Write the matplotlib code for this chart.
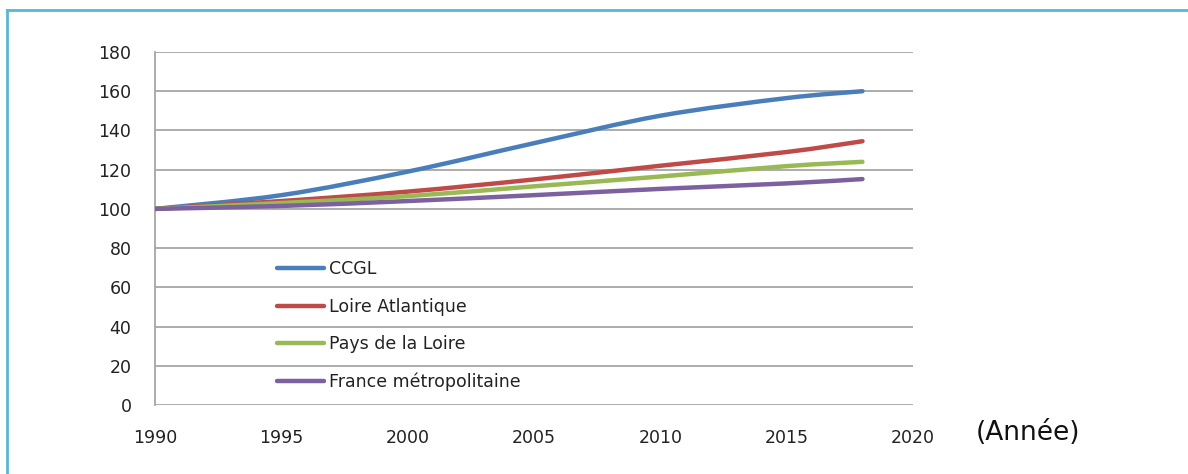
import matplotlib
matplotlib.use("Agg")
import matplotlib.pyplot as plt
from matplotlib.path import Path
from matplotlib.patches import PathPatch
from matplotlib.lines import Line2D

# indice base 100 en 1990
years = [1990, 1995, 2000, 2005, 2010, 2015, 2018]
ccgl = [100, 107, 119, 133.5, 147.5, 156.5, 160]
loire_atlantique = [100, 104, 108.8, 115, 122, 129, 134.5]
pays_de_la_loire = [100, 103, 106.5, 111.5, 116.5, 121.8, 124]
france_metro = [100, 101.5, 104, 107, 110.2, 113, 115.2]

labels = ["CCGL", "Loire Atlantique", "Pays de la Loire", "France métropolitaine"]
series = [ccgl, loire_atlantique, pays_de_la_loire, france_metro]
colors = ["#4A7EBB", "#BE4B48", "#98B954", "#7D60A0"]

xticks = [1990, 1995, 2000, 2005, 2010, 2015, 2020]
yticks = [0, 20, 40, 60, 80, 100, 120, 140, 160, 180]

LINEWIDTH = 3.2
GRID = "#A6A6A6"
FONTSIZE = 12.5


def smooth_path(xs, ys):
    """Courbe lissée façon Excel (Catmull-Rom -> Bézier)."""
    pts = list(zip(xs, ys))
    n = len(pts)
    verts = [pts[0]]
    codes = [Path.MOVETO]
    for i in range(n - 1):
        p0 = pts[max(i - 1, 0)]
        p1 = pts[i]
        p2 = pts[i + 1]
        p3 = pts[min(i + 2, n - 1)]
        c1 = (p1[0] + (p2[0] - p0[0]) / 6.0, p1[1] + (p2[1] - p0[1]) / 6.0)
        c2 = (p2[0] - (p3[0] - p1[0]) / 6.0, p2[1] - (p3[1] - p1[1]) / 6.0)
        verts += [c1, c2, p2]
        codes += [Path.CURVE4] * 3
    return Path(verts, codes)


fig = plt.figure(figsize=(11.88, 4.74), dpi=100)
fig.patch.set_facecolor("white")

# cadre bleu
fig.add_artist(Line2D([7 / 1188, 7 / 1188], [0, 1 - 10 / 474], transform=fig.transFigure,
                      color="#5BB7CF", linewidth=2))
fig.add_artist(Line2D([7 / 1188, 1], [1 - 10 / 474, 1 - 10 / 474], transform=fig.transFigure,
                      color="#5BB7CF", linewidth=2))

ax = fig.add_axes([155 / 1188, 1 - 405 / 474, 758 / 1188, 353 / 474])
ax.set_xlim(1990, 2020)
ax.set_ylim(0, 180)

for s in ["top", "right", "bottom"]:
    ax.spines[s].set_visible(False)
ax.spines["left"].set_color(GRID)
ax.spines["left"].set_linewidth(1.3)

ax.set_yticks(yticks)
ax.set_xticks(xticks)
ax.yaxis.grid(True, color=GRID, linewidth=1.3)
ax.set_axisbelow(True)
ax.tick_params(axis="both", length=0, labelsize=FONTSIZE, colors="#222222")
ax.tick_params(axis="y", pad=17)
ax.tick_params(axis="x", pad=17)

handles = []
for vals, lab, col in zip(series, labels, colors):
    patch = PathPatch(smooth_path(years, vals), fill=False, edgecolor=col,
                      linewidth=LINEWIDTH, capstyle="round", zorder=3)
    ax.add_patch(patch)
    handles.append(Line2D([], [], color=col, linewidth=LINEWIDTH,
                          solid_capstyle="round", label=lab))

ax.legend(handles=handles, loc="upper left", bbox_to_anchor=(0.161, 0.41),
          frameon=False, fontsize=FONTSIZE, borderpad=0, borderaxespad=0,
          handlelength=2.7, handletextpad=0.3, labelspacing=1.12,
          labelcolor="#222222")

fig.text(1028 / 1188, 1 - 433 / 474, "(Année)", fontsize=19, ha="center", va="center",
         color="#111111")

fig.savefig("out.png", dpi=100)
